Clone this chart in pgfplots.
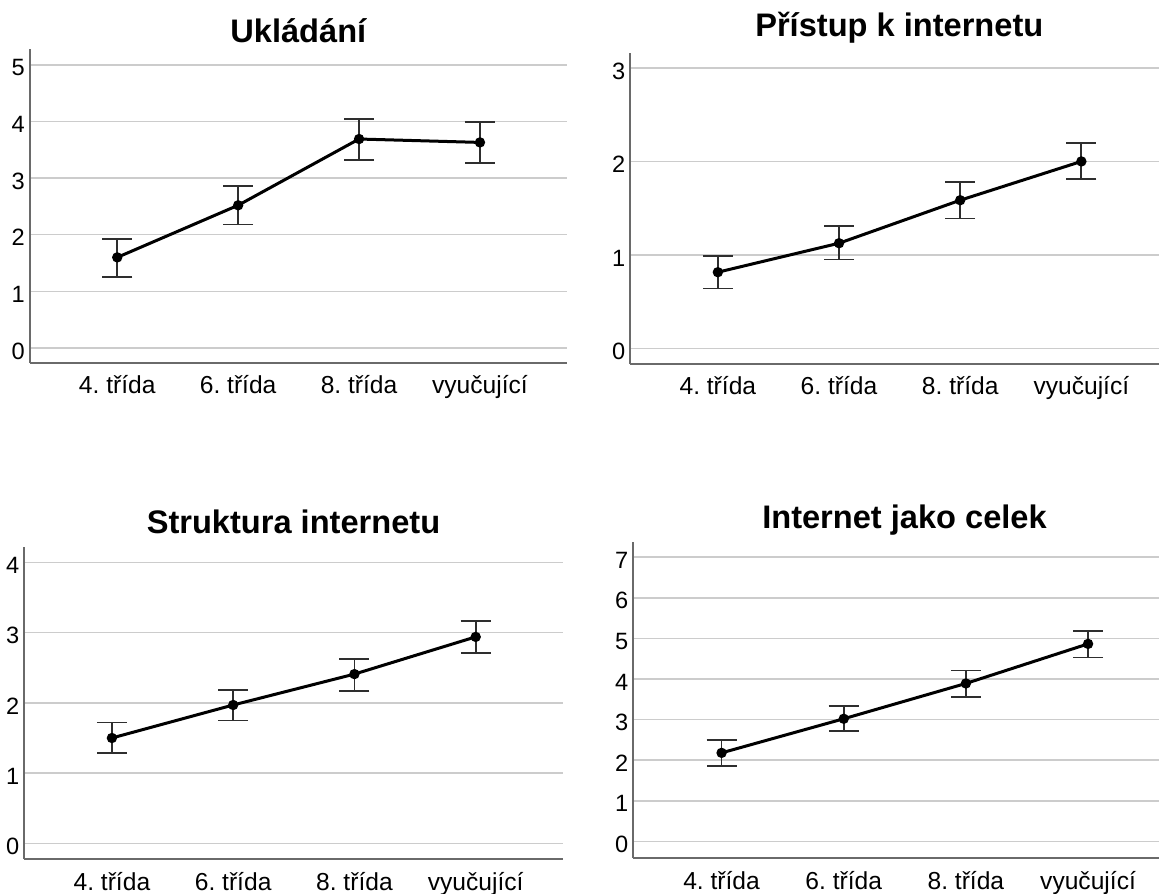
\documentclass[border=0pt]{standalone}
\usepackage{fontspec}
\setmainfont{Liberation Sans}
\usepackage{pgfplots}
\pgfplotsset{compat=1.18}
\frenchspacing
\definecolor{gridgray}{HTML}{CCCCCC}
\definecolor{axisgray}{HTML}{6A6A6A}
\definecolor{errgray}{HTML}{2E2E2E}
\pgfplotsset{
  every axis title shift=0pt,
  panel/.style={
    scale only axis,
    xmin=-0.725, xmax=3.72,
    axis x line=bottom, axis y line=left,
    axis line style={-, draw=axisgray, line width=0.9pt},
    xtick={0,1,2,3},
    xticklabels={4. třída,6. třída,8. třída,vyučující},
    major tick length=0pt,
    ymajorgrids,
    grid style={gridgray, line width=0.75pt},
    tick label style={text=black},
    /pgf/number format/assume math mode=true,
    xticklabel style={font=\fontsize{12.3}{14}\selectfont, anchor=base, yshift=-15.5pt},
    yticklabel style={font=\fontsize{11.8}{14}\selectfont, yshift=-1.5pt, inner xsep=2.2pt},
    title style={font=\fontsize{16.3}{19}\selectfont\bfseries, anchor=base, at={(0.5,1)}},
    clip=false,
  },
  series/.style={black, line width=1.5pt, mark=*, mark size=1.8pt,
    error bars/.cd, y dir=both, y explicit, error mark=|,
    error bar style={line width=0.9pt, color=errgray},
    error mark options={mark size=7.5pt, line width=0.9pt, color=errgray}},
}
\begin{document}
\begin{tikzpicture}[x=1pt,y=1pt]
\path[use as bounding box] (0,0) rectangle (579.5,446.5);

% Panel 1
\begin{axis}[panel, at={(14.8pt,265pt)}, anchor=south west,
  width=268.7pt, height=157pt,
  ymin=-0.265, ymax=5.28, ytick={0,1,2,3,4,5},
  title={Ukládání}, title style={yshift=3pt}]
\addplot[series] table[x=x, y=y, y error plus=ep, y error minus=em] {
x y ep em
0 1.60 0.33 0.34
1 2.52 0.34 0.34
2 3.69 0.36 0.37
3 3.63 0.36 0.37
};
\end{axis}

% Panel 2
\begin{axis}[panel, at={(315pt,264.5pt)}, anchor=south west,
  width=269.3pt, height=155.5pt,
  ymin=-0.167, ymax=3.16, ytick={0,1,2,3},
  title={Přístup k internetu}, title style={yshift=8pt}]
\addplot[series] table[x=x, y=y, y error plus=ep, y error minus=em] {
x y ep em
0 0.815 0.175 0.175
1 1.125 0.185 0.175
2 1.585 0.195 0.195
3 2.000 0.200 0.190
};
\end{axis}

% Panel 3
\begin{axis}[panel, at={(12pt,17pt)}, anchor=south west,
  width=269.5pt, height=156pt,
  ymin=-0.223, ymax=4.22, ytick={0,1,2,3,4},
  title={Struktura internetu}, title style={yshift=6.5pt}]
\addplot[series] table[x=x, y=y, y error plus=ep, y error minus=em] {
x y ep em
0 1.50 0.22 0.21
1 1.97 0.21 0.22
2 2.41 0.22 0.24
3 2.94 0.23 0.23
};
\end{axis}

% Panel 4
\begin{axis}[panel, at={(316.5pt,17.5pt)}, anchor=south west,
  width=271.5pt, height=158pt,
  ymin=-0.41, ymax=7.375, ytick={0,1,2,3,4,5,6,7},
  title={Internet jako celek}, title style={yshift=6.5pt}]
\addplot[series] table[x=x, y=y, y error plus=ep, y error minus=em] {
x y ep em
0 2.18 0.31 0.32
1 3.02 0.31 0.31
2 3.89 0.32 0.34
3 4.865 0.325 0.335
};
\end{axis}
\end{tikzpicture}
\end{document}
